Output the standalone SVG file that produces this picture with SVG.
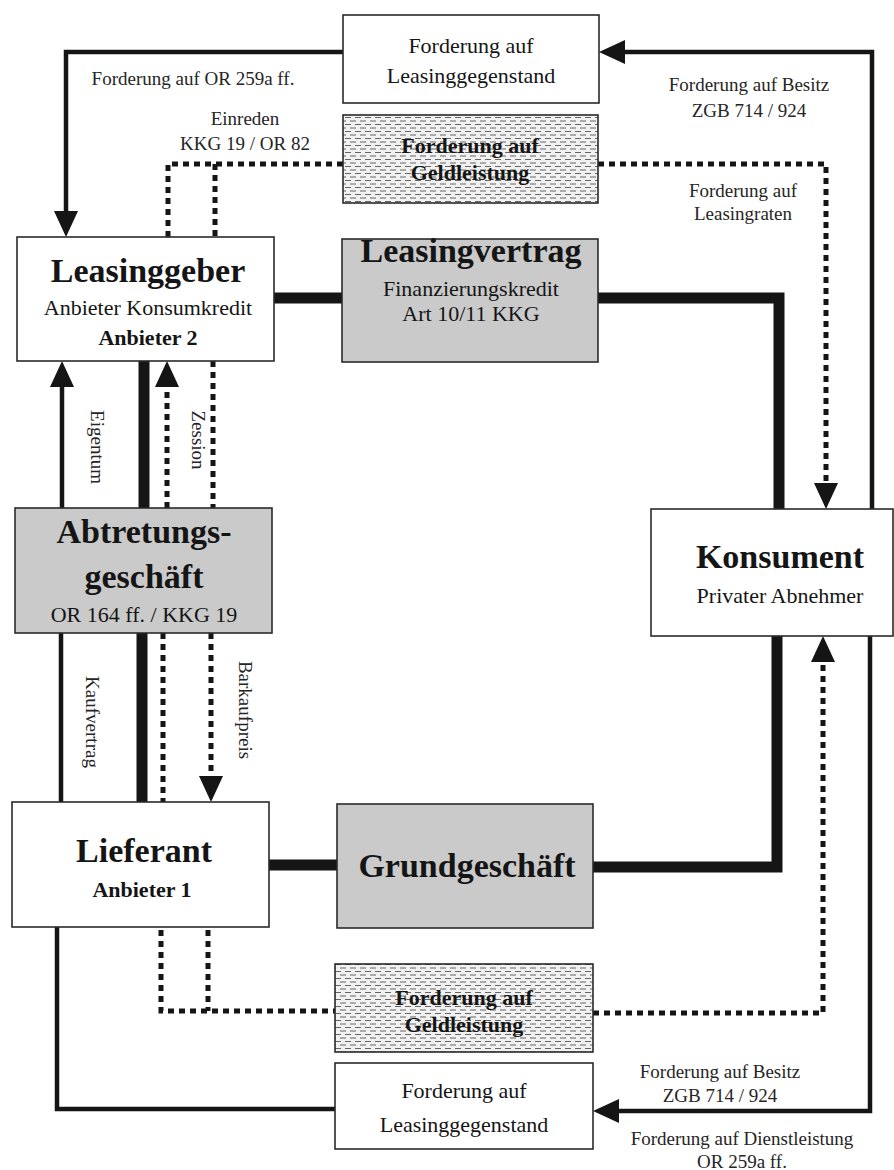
<svg xmlns="http://www.w3.org/2000/svg" width="894" height="1170" viewBox="0 0 894 1170">
<style>
text{font-family:"Liberation Serif","Times New Roman",serif;fill:#151515}
.box{fill:#fff;stroke:#2a2a2a;stroke-width:1.6}
.gray{fill:#cacaca;stroke:#2a2a2a;stroke-width:1.6}
.hat{fill:url(#hatch);stroke:#2a2a2a;stroke-width:1.6}
.h{font-size:34px;font-weight:bold;text-anchor:middle}
.s{font-size:22px;text-anchor:middle}
.sb{font-size:22px;font-weight:bold;text-anchor:middle}
.hb{font-size:22px;font-weight:bold;text-anchor:middle}
.l{font-size:19px;text-anchor:middle;fill:#252525}
.r{font-size:19px;text-anchor:middle;dominant-baseline:central;fill:#252525}
.thin{fill:none;stroke:#151515;stroke-width:4.5}
.thick{fill:none;stroke:#151515;stroke-width:11}
.dot{fill:none;stroke:#151515;stroke-width:5;stroke-dasharray:6 5}
</style>
<defs>
<pattern id="hatch" width="10" height="7" patternUnits="userSpaceOnUse">
<rect width="10" height="7" fill="#f1f1f1"/>
<path d="M0 2h6M5 5.5h5M0 5.5h1" stroke="#666" stroke-width="1"/>
</pattern>
<marker id="ah" markerUnits="userSpaceOnUse" markerWidth="27" markerHeight="26" refX="1" refY="12" orient="auto">
<path d="M0,0 L26,12 L0,24 Z" fill="#151515"/>
</marker>
</defs>

<g id="connectors">
<path class="thin" d="M343,52 H66 V212" marker-end="url(#ah)"/>
<path class="thin" d="M872,509 V52 H624" marker-end="url(#ah)"/>
<path class="thick" d="M274,298 H342"/>
<path class="thick" d="M598,298 H779 V509"/>
<path class="dot" d="M598,164 H826 V484" marker-end="url(#ah)"/>
<path class="dot" d="M343,164 H168 V237"/>
<path class="dot" d="M215,164 V237"/>
<path class="thin" d="M62,508 V386" marker-end="url(#ah)"/>
<path class="thick" d="M144,361 V508"/>
<path class="dot" d="M167,508 V386" marker-end="url(#ah)"/>
<path class="dot" d="M213,361 V508"/>
<path class="thin" d="M61,633 V802"/>
<path class="thick" d="M142,633 V802"/>
<path class="dot" d="M163,633 V802"/>
<path class="dot" d="M211,633 V777" marker-end="url(#ah)"/>
<path class="thick" d="M269,865 H337"/>
<path class="thick" d="M593,867 H777 V636"/>
<path class="dot" d="M593,1013 H823 V661" marker-end="url(#ah)"/>
<path class="thin" d="M870,636 V1111 H618" marker-end="url(#ah)"/>
<path class="thin" d="M57,927 V1109 H335"/>
<path class="dot" d="M161,930 V1011 H335"/>
<path class="dot" d="M208,930 V1011"/>
</g>

<g id="labels">
<text class="l" x="193" y="85">Forderung auf OR 259a ff.</text>
<text class="l" x="245" y="125">Einreden</text>
<text class="l" x="245" y="150">KKG 19 / OR 82</text>
<text class="l" x="749" y="91">Forderung auf Besitz</text>
<text class="l" x="749" y="117">ZGB 714 / 924</text>
<text class="l" x="743" y="197" font-size="18">Forderung auf</text>
<text class="l" x="743" y="220" font-size="18">Leasingraten</text>
<text class="r" transform="translate(97,447) rotate(90)">Eigentum</text>
<text class="r" transform="translate(198,440) rotate(90)">Zession</text>
<text class="r" transform="translate(92,722) rotate(90)">Kaufvertrag</text>
<text class="r" transform="translate(245,710) rotate(90)">Barkaufpreis</text>
<text class="l" x="720" y="1078">Forderung auf Besitz</text>
<text class="l" x="720" y="1102">ZGB 714 / 924</text>
<text class="l" x="742" y="1145">Forderung auf Dienstleistung</text>
<text class="l" x="742" y="1168">OR 259a ff.</text>
</g>

<g id="n-top-gegenstand">
<rect class="box" x="343" y="15" width="256" height="88"/>
<text class="s" x="471" y="53">Forderung auf</text>
<text class="s" x="471" y="83">Leasinggegenstand</text>
</g>
<g id="n-top-geld">
<rect class="hat" x="343" y="115" width="255" height="88"/>
<text class="hb" x="470" y="153">Forderung auf</text>
<text class="hb" x="470" y="180">Geldleistung</text>
</g>
<g id="n-leasinggeber">
<rect class="box" x="17" y="237" width="257" height="124"/>
<text class="h" x="148" y="282">Leasinggeber</text>
<text class="s" x="148" y="315">Anbieter Konsumkredit</text>
<text class="sb" x="148" y="345">Anbieter 2</text>
</g>
<g id="n-leasingvertrag">
<rect class="gray" x="342" y="239" width="256" height="123"/>
<text class="h" x="471" y="262">Leasingvertrag</text>
<text class="s" x="471" y="296">Finanzierungskredit</text>
<text class="s" x="471" y="321">Art 10/11 KKG</text>
</g>
<g id="n-abtretung">
<rect class="gray" x="15" y="508" width="257" height="125"/>
<text class="h" x="144" y="543">Abtretungs-</text>
<text class="h" x="144" y="588">geschäft</text>
<text class="s" x="144" y="622">OR 164 ff. / KKG 19</text>
</g>
<g id="n-konsument">
<rect class="box" x="651" y="509" width="242" height="127"/>
<text class="h" x="780" y="568">Konsument</text>
<text class="s" x="780" y="603">Privater Abnehmer</text>
</g>
<g id="n-lieferant">
<rect class="box" x="12" y="802" width="257" height="125"/>
<text class="h" x="144" y="862">Lieferant</text>
<text class="sb" x="142" y="897">Anbieter 1</text>
</g>
<g id="n-grundgeschaeft">
<rect class="gray" x="337" y="804" width="256" height="124"/>
<text class="h" x="467" y="877">Grundgeschäft</text>
</g>
<g id="n-bottom-geld">
<rect class="hat" x="335" y="964" width="258" height="88"/>
<text class="hb" x="464" y="1005">Forderung auf</text>
<text class="hb" x="464" y="1032">Geldleistung</text>
</g>
<g id="n-bottom-gegenstand">
<rect class="box" x="335" y="1063" width="258" height="86"/>
<text class="s" x="464" y="1098">Forderung auf</text>
<text class="s" x="464" y="1132">Leasinggegenstand</text>
</g>
</svg>
